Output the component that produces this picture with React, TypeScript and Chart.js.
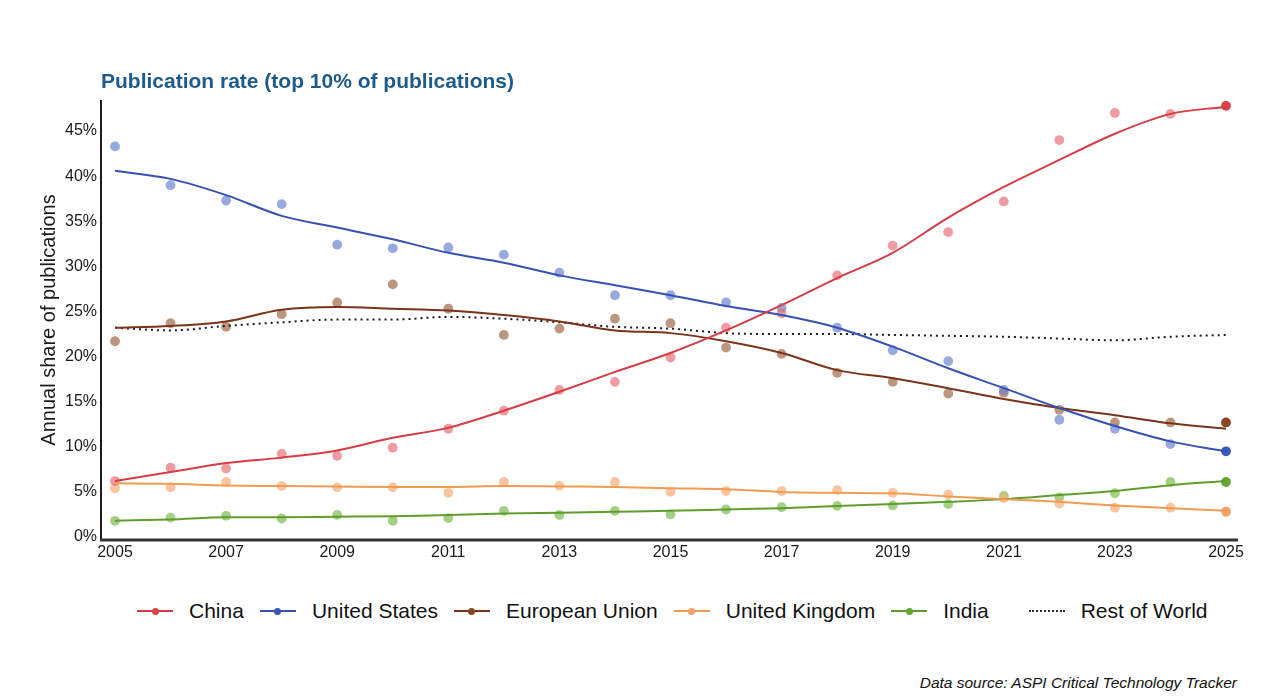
import React, { useEffect, useRef } from "react";
import { Chart, registerables } from "chart.js";
Chart.register(...registerables);

const years = [2005, 2006, 2007, 2008, 2009, 2010, 2011, 2012, 2013, 2014, 2015, 2016, 2017, 2018, 2019, 2020, 2021, 2022, 2023, 2024, 2025];
const xTickYears = [2005, 2007, 2009, 2011, 2013, 2015, 2017, 2019, 2021, 2023, 2025];
const yTickValues = [0, 5, 10, 15, 20, 25, 30, 35, 40, 45];

const chinaPoints = [6.2, 7.7, 7.6, 9.2, 9.0, 9.9, 12.0, 14.0, 16.3, 17.2, 19.9, 23.2, 24.8, 29.0, 32.3, 33.8, 37.2, 44.0, 47.0, 46.9, 47.8];
const chinaTrend = [6.2, 7.2, 8.2, 8.8, 9.6, 11.0, 12.1, 14.0, 16.1, 18.3, 20.4, 22.9, 25.7, 28.7, 31.5, 35.4, 38.8, 41.8, 44.7, 46.9, 47.7];

const usPoints = [43.3, 39.0, 37.3, 36.9, 32.4, 32.0, 32.1, 31.3, 29.3, 26.8, 26.8, 26.0, 25.4, 23.2, 20.7, 19.5, 16.3, 13.0, 12.0, 10.3, 9.5];
const usTrend = [40.6, 39.7, 37.9, 35.6, 34.3, 33.0, 31.5, 30.4, 29.0, 27.9, 26.8, 25.6, 24.6, 23.2, 21.1, 18.7, 16.5, 14.3, 12.3, 10.6, 9.5];

const euPoints = [21.7, 23.7, 23.3, 24.7, 26.0, 28.0, 25.3, 22.4, 23.1, 24.2, 23.7, 21.0, 20.3, 18.2, 17.2, 15.9, 16.0, 14.1, 12.7, 12.7, 12.7];
const euTrend = [23.2, 23.4, 23.9, 25.2, 25.5, 25.3, 25.1, 24.6, 23.9, 22.9, 22.6, 21.7, 20.4, 18.5, 17.6, 16.5, 15.3, 14.3, 13.5, 12.6, 12.0];

const ukPoints = [5.4, 5.5, 6.1, 5.65, 5.5, 5.5, 4.9, 6.1, 5.7, 6.1, 5.0, 5.1, 5.1, 5.2, 4.9, 4.7, 4.3, 3.7, 3.25, 3.25, 2.8];
const ukTrend = [5.95, 5.9, 5.7, 5.65, 5.6, 5.55, 5.55, 5.65, 5.6, 5.55, 5.4, 5.3, 5.0, 4.9, 4.85, 4.5, 4.2, 3.9, 3.5, 3.2, 2.9];

const indiaPoints = [1.8, 2.15, 2.35, 2.05, 2.45, 1.8, 2.1, 2.9, 2.45, 2.9, 2.5, 3.05, 3.3, 3.45, 3.5, 3.65, 4.55, 4.4, 4.85, 6.1, 6.1];
const indiaTrend = [1.8, 1.95, 2.2, 2.2, 2.25, 2.3, 2.45, 2.6, 2.7, 2.8, 2.9, 3.05, 3.2, 3.45, 3.65, 3.9, 4.2, 4.65, 5.1, 5.75, 6.2];

const restOfWorldTrend = [23.2, 22.9, 23.4, 23.8, 24.1, 24.1, 24.4, 24.2, 23.8, 23.3, 23.1, 22.6, 22.5, 22.5, 22.4, 22.3, 22.2, 22.0, 21.8, 22.2, 22.4];

const seriesNames = ["China", "United States", "European Union", "United Kingdom", "India", "Rest of World"];

const FONT = "'Liberation Sans', Arial, Helvetica, sans-serif";

const palette = {
  China: { line: "#d63c45", point: "rgba(228,104,114,0.66)", end: "#d9434c" },
  "United States": { line: "#3551b2", point: "rgba(108,132,208,0.7)", end: "#3a56b8" },
  "European Union": { line: "#7a3418", point: "rgba(164,110,78,0.72)", end: "#8a4422" },
  "United Kingdom": { line: "#f39a52", point: "rgba(246,178,128,0.75)", end: "#f2a266" },
  India: { line: "#5f9e2e", point: "rgba(134,192,92,0.75)", end: "#66a834" },
  "Rest of World": { line: "#222222", point: "#222222", end: "#222222" },
};

const toXY = (vals: number[]) => vals.map((v, i) => ({ x: years[i], y: v }));

const xAxisLine = {
  id: "xAxisLine",
  afterDatasetsDraw(chart: any) {
    const x = chart.scales.x;
    const y = chart.scales.y;
    const ctx = chart.ctx;
    const left = x.getPixelForValue(x.min);
    const right = x.getPixelForValue(x.max);
    const bottom = y.getPixelForValue(y.min) + 1;
    ctx.save();
    ctx.strokeStyle = "#333333";
    ctx.lineWidth = 3;
    ctx.beginPath();
    ctx.moveTo(left - 1, bottom);
    ctx.lineTo(right, bottom);
    ctx.stroke();
    ctx.restore();
  },
};

export default function App() {
  const canvasRef = useRef<HTMLCanvasElement | null>(null);

  useEffect(() => {
    if (!canvasRef.current) return;
    const trendSets: [string, number[]][] = [
      ["China", chinaTrend],
      ["United States", usTrend],
      ["European Union", euTrend],
      ["United Kingdom", ukTrend],
      ["India", indiaTrend],
    ];
    const pointSets: [string, number[]][] = [
      ["China", chinaPoints],
      ["United States", usPoints],
      ["European Union", euPoints],
      ["United Kingdom", ukPoints],
      ["India", indiaPoints],
    ];
    const datasets: any[] = [];
    trendSets.forEach(([name, vals]) => {
      const c = (palette as any)[name];
      datasets.push({
        label: name,
        data: toXY(vals),
        borderColor: c.line,
        backgroundColor: c.line,
        borderWidth: 2,
        pointRadius: 0,
        cubicInterpolationMode: "monotone",
        fill: false,
      });
    });
    datasets.push({
      label: "Rest of World",
      data: toXY(restOfWorldTrend),
      borderColor: "#1a1a1a",
      borderWidth: 2,
      borderDash: [2, 4],
      pointRadius: 0,
      cubicInterpolationMode: "monotone",
      fill: false,
    });
    pointSets.forEach(([name, vals]) => {
      const c = (palette as any)[name];
      datasets.push({
        label: name + " (annual)",
        data: toXY(vals),
        showLine: false,
        pointRadius: 4.9,
        pointBorderWidth: 0,
        pointBackgroundColor: (ctx: any) => (ctx.dataIndex === vals.length - 1 ? c.end : c.point),
        borderColor: c.point,
      });
    });

    const chart = new Chart(canvasRef.current, {
      type: "line",
      data: { datasets },
      plugins: [xAxisLine],
      options: {
        animation: false,
        responsive: false,
        devicePixelRatio: 1,
        layout: { padding: { left: 33, right: 42, top: 0, bottom: 0 } },
        plugins: {
          legend: { display: false },
          tooltip: { enabled: false },
          title: {
            display: true,
            text: "Publication rate (top 10% of publications)",
            align: "start",
            fullSize: false,
            color: "#1e5b8a",
            font: { family: FONT, size: 21, weight: "bold", lineHeight: 1 },
            padding: { top: 72, bottom: 8 },
          },
        },
        scales: {
          x: {
            type: "linear",
            min: 2004.748,
            max: 2025.216,
            grid: { display: false, drawTicks: false },
            border: { display: false },
            ticks: {
              color: "#1a1a1a",
              font: { family: FONT, size: 16 },
              padding: 4,
              maxRotation: 0,
              callback: (v: any) => String(v),
            },
            afterBuildTicks: (scale: any) => {
              scale.ticks = xTickYears.map((v) => ({ value: v }));
            },
            afterFit: (scale: any) => {
              scale.height = 36;
            },
          },
          y: {
            type: "linear",
            min: -0.22,
            max: 48.33,
            grid: { display: false, drawTicks: false },
            border: { display: true, color: "#1a1a1a", width: 2 },
            ticks: {
              color: "#1a1a1a",
              font: { family: FONT, size: 16 },
              padding: 4,
              callback: (v: any) => v + "%",
            },
            afterBuildTicks: (scale: any) => {
              scale.ticks = yTickValues.map((v) => ({ value: v }));
            },
            afterFit: (scale: any) => {
              scale.width = 68;
            },
            title: {
              display: true,
              text: "Annual share of publications",
              color: "#1a1a1a",
              font: { family: FONT, size: 20 },
              padding: { top: 4, bottom: 4 },
            },
          },
        },
      },
    });
    return () => chart.destroy();
  }, []);

  const legendItems = seriesNames.map((name) => {
    const c = (palette as any)[name];
    const dotted = name === "Rest of World";
    return (
      <div key={name} style={{ display: "flex", alignItems: "center", marginLeft: dotted ? 40 : name === "China" ? 0 : 16 }}>
        <div style={{ position: "relative", width: 36, height: 12, marginRight: 16 }}>
          {dotted ? (
            <div style={{ position: "absolute", left: 0, right: 0, top: 5, borderTop: "2px dotted #333" }} />
          ) : (
            <>
              <div style={{ position: "absolute", left: 0, right: 0, top: 5, height: 2, background: c.line }} />
              <div style={{ position: "absolute", left: 14.5, top: 2.5, width: 7, height: 7, borderRadius: "50%", background: c.end }} />
            </>
          )}
        </div>
        <span style={{ fontSize: 21, color: "#111" }}>{name}</span>
      </div>
    );
  });

  return (
    <div style={{ position: "fixed", left: 0, top: 0, width: 1280, height: 700, background: "#fff", fontFamily: FONT, overflow: "hidden" }}>
      <canvas ref={canvasRef} width={1280} height={575} style={{ position: "absolute", left: 0, top: 0, width: 1280, height: 575 }} />
      <div style={{ position: "absolute", left: 137, top: 598, height: 26, display: "flex", alignItems: "center", whiteSpace: "nowrap" }}>
        {legendItems}
      </div>
      <div style={{ position: "absolute", right: 43, top: 674, fontSize: 15.5, fontStyle: "italic", color: "#111" }}>
        Data source: ASPI Critical Technology Tracker
      </div>
    </div>
  );
}
